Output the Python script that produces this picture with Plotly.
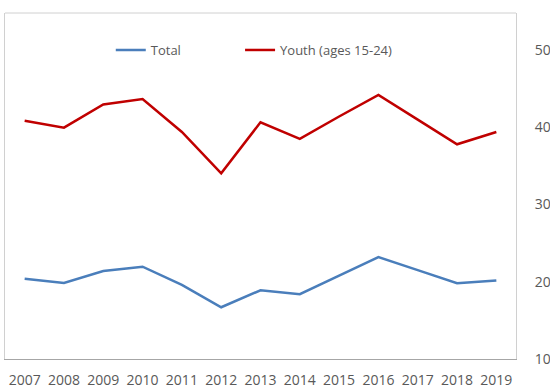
import plotly.graph_objects as go

years = [2007, 2008, 2009, 2010, 2011, 2012, 2013, 2014, 2015, 2016, 2017, 2018, 2019]
total = [20.4, 19.85, 21.4, 21.95, 19.6, 16.7, 18.9, 18.4, 20.8, 23.2, 21.5, 19.8, 20.15]
youth = [40.85, 39.95, 42.95, 43.65, 39.4, 34.05, 40.65, 38.5, 41.4, 44.2, 41.0, 37.8, 39.4]
y_ticks = [10, 20, 30, 40, 50]

fig = go.Figure()
fig.add_trace(go.Scatter(x=years, y=total, mode="lines", name="Total", legend="legend",
                         line=dict(color="#4A7EBB", width=2.5)))
fig.add_trace(go.Scatter(x=years, y=youth, mode="lines", name="Youth (ages 15-24)",
                         legend="legend2", line=dict(color="#C00000", width=2.5)))

fam = "Open Sans, Noto Sans, sans-serif"
leg_common = dict(orientation="h", y=0.893, xanchor="left", yanchor="middle",
                  bgcolor="rgba(0,0,0,0)", itemwidth=30,
                  font=dict(family=fam, size=13, color="#595959"))
fig.update_layout(
    width=550, height=388,
    margin=dict(l=5, r=34, t=13, b=29),
    paper_bgcolor="white", plot_bgcolor="white",
    font=dict(family=fam, size=14, color="#595959"),
    showlegend=True,
    legend=dict(x=0.207, **leg_common),
    legend2=dict(x=0.46, **leg_common),
    xaxis=dict(range=[2006.5, 2019.5], tickvals=years, ticktext=[str(y) for y in years],
               showgrid=False, zeroline=False, showline=True, linecolor="#A6A6A6", linewidth=1,
               mirror=False, ticks="", ticklabelstandoff=8, automargin=False,
               tickfont=dict(family=fam, size=14, color="#595959")),
    yaxis=dict(range=[10, 54.8], tickvals=y_ticks, side="right", showgrid=False,
               zeroline=False, showline=True, linecolor="#D0D0D0", linewidth=1, mirror=True,
               ticks="", ticklabelstandoff=15, automargin=False,
               tickfont=dict(family=fam, size=14, color="#595959")),
    shapes=[dict(type="line", xref="paper", yref="paper", x0=0, x1=1, y0=1, y1=1,
                 line=dict(color="#D0D0D0", width=1))],
)
fig.write_html("out.html")
